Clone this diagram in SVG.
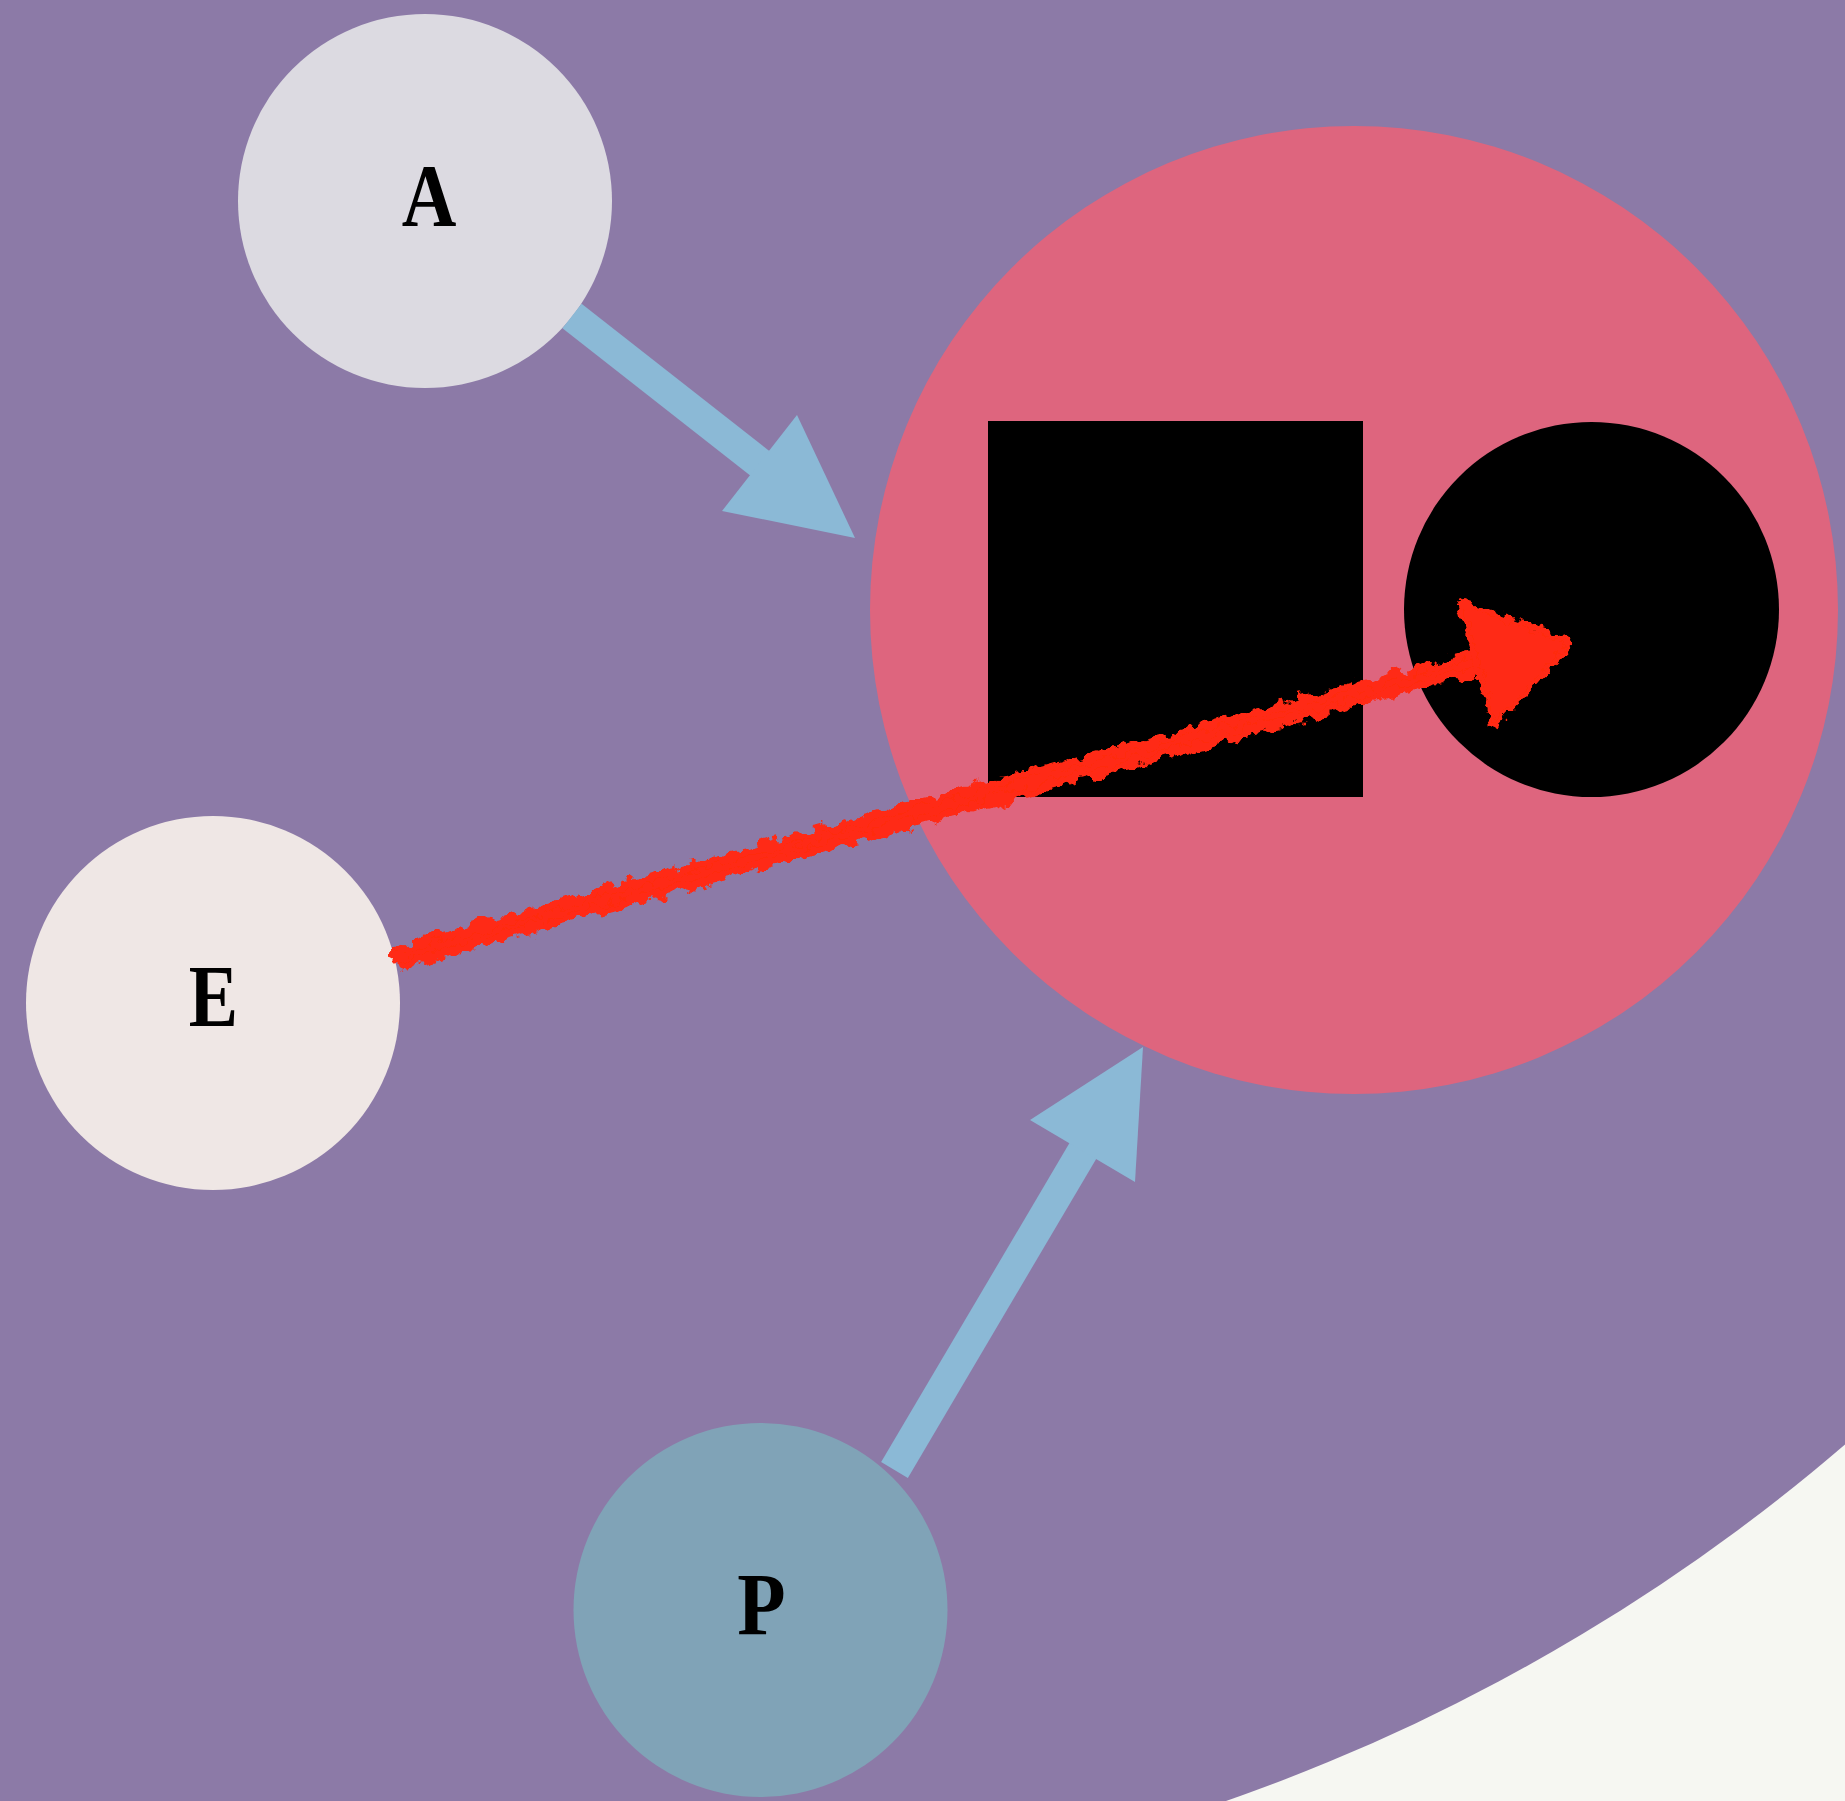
<svg xmlns="http://www.w3.org/2000/svg" width="1845" height="1801" viewBox="0 0 1845 1801">
  <defs>
    <style>
      .lbl { font-family: "Liberation Serif", "Times New Roman", serif; font-weight: bold; font-size: 88px; text-anchor: middle; fill: #000; }
      .blue { stroke: #8BB9D6; stroke-width: 31; fill: none; }
      .bluehead { fill: #8BB9D6; }
      .red { stroke: #FF2A12; fill: none; stroke-linecap: round; }
    </style>
    <filter id="rough" x="-10%" y="-50%" width="120%" height="200%">
      <feTurbulence type="fractalNoise" baseFrequency="0.07" numOctaves="3" seed="4" result="n"/>
      <feDisplacementMap in="SourceGraphic" in2="n" scale="20" xChannelSelector="R" yChannelSelector="G"/>
    </filter>
    <filter id="rough2" x="-20%" y="-20%" width="140%" height="140%">
      <feTurbulence type="fractalNoise" baseFrequency="0.1" numOctaves="3" seed="9" result="n"/>
      <feDisplacementMap in="SourceGraphic" in2="n" scale="16" xChannelSelector="R" yChannelSelector="G"/>
    </filter>
  </defs>

  <rect x="0" y="0" width="1845" height="1801" fill="#F6F7F2"/>
  <circle cx="594" cy="-12" r="1920" fill="#8C7AA7"/>

  <g id="node-group">
    <circle cx="1354" cy="610" r="484" fill="#DE657E"/>
    <g id="node-square">
      <rect x="988" y="421" width="375" height="376" fill="#000"/>
    </g>
    <g id="node-circle">
      <circle cx="1591.5" cy="609.5" r="187.5" fill="#000"/>
    </g>
  </g>

  <g id="node-A">
    <circle cx="425" cy="201" r="187" fill="#DCDAE1"/>
    <text class="lbl" transform="translate(429,225) scale(0.86,1)">A</text>
  </g>
  <g id="node-E">
    <circle cx="213" cy="1003" r="187" fill="#EFE7E5"/>
    <text class="lbl" transform="translate(213.5,1026) scale(0.84,1)">E</text>
  </g>
  <g id="node-P">
    <circle cx="760.5" cy="1610" r="187" fill="#80A3B7"/>
    <text class="lbl" transform="translate(761.5,1634) scale(0.9,1)">P</text>
  </g>

  <g id="connectors">
    <g id="edge-A-group">
      <line class="blue" x1="572" y1="316" x2="762" y2="465"/>
      <polygon class="bluehead" points="855,538 797,415 722,511"/>
    </g>
    <g id="edge-P-group">
      <line class="blue" x1="894.5" y1="1470" x2="1084" y2="1149"/>
      <polygon class="bluehead" points="1143,1047 1030,1120 1135,1182"/>
    </g>
    <g id="edge-E-circle">
      <g filter="url(#rough)">
        <path class="red" stroke-width="18" d="M402,957 L940,807 L1475,664"/>
        <path class="red" stroke-width="9" d="M404,948 L940,798 L1470,656"/>
        <path class="red" stroke-width="9" d="M400,965 L940,815 L1470,672"/>
      </g>
      <g filter="url(#rough2)">
        <polygon points="1460,602 1572,642 1494,726" fill="#FF2A12" stroke="#FF2A12" stroke-width="6" stroke-linejoin="round"/>
      </g>
    </g>
  </g>
</svg>
